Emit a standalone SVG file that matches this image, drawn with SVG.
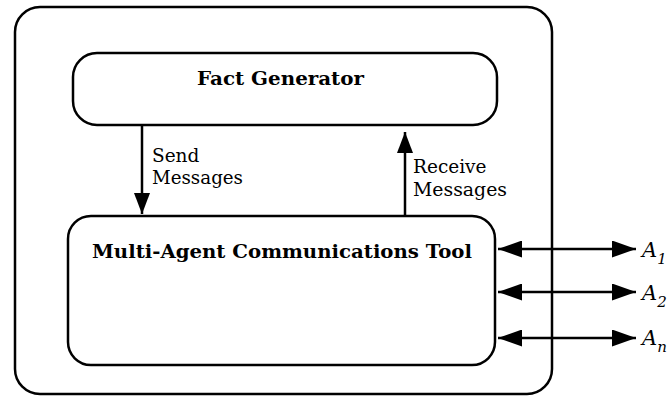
<svg xmlns="http://www.w3.org/2000/svg" width="670" height="398" viewBox="0 0 670 398">
<style>
.box{fill:none;stroke:#000;stroke-width:2.5}
.ln{stroke:#000;stroke-width:2.5;fill:none}
.t{font-family:"DejaVu Serif","Liberation Serif",serif;fill:#000}
.b{font-weight:bold;font-size:19px}
.n{font-size:18.5px}
.a{font-style:italic;font-size:21px}
.s{font-style:italic;font-size:15px}
</style>
<defs>
<marker id="ah" viewBox="0 0 24 17" refX="24" refY="8.5" markerWidth="24" markerHeight="17" markerUnits="userSpaceOnUse" orient="auto-start-reverse">
<path d="M0,0 L24,8.5 L0,17 Z" fill="#000"/>
</marker>
<marker id="av" viewBox="0 0 21 16" refX="21" refY="8" markerWidth="21" markerHeight="16" markerUnits="userSpaceOnUse" orient="auto">
<path d="M0,0 L21,8 L0,16 Z" fill="#000"/>
</marker>
</defs>
<g id="system"><rect class="box" x="15" y="7" width="537" height="387" rx="25"/></g>
<g id="fact-generator">
<rect class="box" x="73" y="53" width="424" height="72" rx="24"/>
<text class="t b" x="197" y="85" textLength="167" lengthAdjust="spacingAndGlyphs">Fact Generator</text>
</g>
<g id="mact">
<rect class="box" x="68" y="216" width="427" height="149" rx="23"/>
<text class="t b" x="92" y="258" textLength="380" lengthAdjust="spacingAndGlyphs">Multi-Agent Communications Tool</text>
</g>
<g id="connectors">
<line class="ln" x1="142" y1="126" x2="142" y2="214" marker-end="url(#av)"/>
<line class="ln" x1="405" y1="215" x2="405" y2="132" marker-end="url(#av)"/>
<line class="ln" x1="498" y1="249" x2="636" y2="249" marker-start="url(#ah)" marker-end="url(#ah)"/>
<line class="ln" x1="498" y1="292" x2="636" y2="292" marker-start="url(#ah)" marker-end="url(#ah)"/>
<line class="ln" x1="498" y1="338" x2="636" y2="338" marker-start="url(#ah)" marker-end="url(#ah)"/>
</g>
<g id="labels">
<text class="t n" x="152" y="162">Send</text>
<text class="t n" x="152" y="184" textLength="91" lengthAdjust="spacingAndGlyphs">Messages</text>
<text class="t n" x="413" y="173">Receive</text>
<text class="t n" x="413" y="196" textLength="94" lengthAdjust="spacingAndGlyphs">Messages</text>
</g>
<g id="agents">
<text class="t" x="642" y="257"><tspan class="a">A</tspan><tspan class="s" dy="7">1</tspan></text>
<text class="t" x="642" y="300"><tspan class="a">A</tspan><tspan class="s" dy="7">2</tspan></text>
<text class="t" x="642" y="345"><tspan class="a">A</tspan><tspan class="s" dy="7">n</tspan></text>
</g>
</svg>
